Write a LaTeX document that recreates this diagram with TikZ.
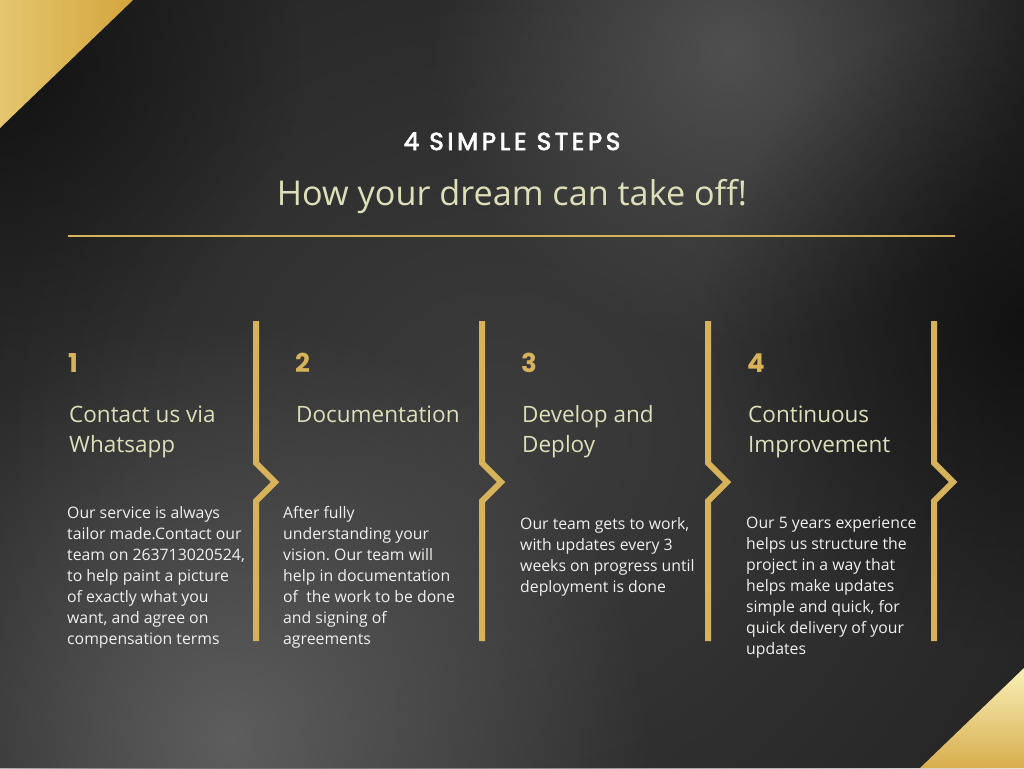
\documentclass[tikz,border=0pt]{standalone}
\usepackage{fontspec}
\setmainfont{Open Sans}
\newfontfamily\titlefont[LetterSpace=15]{Poppins}
\newfontfamily\numfont{Poppins}
\newfontfamily\headfont{Open Sans}
\usetikzlibrary{fadings}
\frenchspacing
\definecolor{bgdark}{HTML}{222222}
\definecolor{gold}{HTML}{D6B35A}
\definecolor{cream}{HTML}{DEDFB8}
\definecolor{bodytext}{HTML}{F0F0EE}
\definecolor{triA}{HTML}{E4C66E}
\definecolor{triB}{HTML}{D4A53C}
\definecolor{triC}{HTML}{F8F0B8}
\definecolor{triD}{HTML}{D8AE4E}
\newcommand\semibold[1]{\special{pdf:literal direct 2 Tr 0.75 w}#1\special{pdf:literal direct 0 Tr}}
\tikzfading[name=softc, inner color=transparent!0, outer color=transparent!100]
\tikzset{
  goldline/.style={draw=gold, line width=6pt, line join=miter},
  numlbl/.style={anchor=base west, inner sep=0pt, text=gold, font=\numfont\bfseries\fontsize{26}{30}\selectfont},
  headlbl/.style={anchor=base west, inner sep=0pt, text=cream, align=left, font=\headfont\fontsize{22.5}{30}\selectfont},
  bodylbl/.style={anchor=base west, inner sep=0pt, text=bodytext, align=left, font=\frenchspacing\fontsize{15.8}{21}\selectfont},
}
\begin{document}
\begin{tikzpicture}[x=1pt,y=-1pt]
\useasboundingbox (0,0) rectangle (1024,768);
% background
\fill[bgdark] (0,0) rectangle (1024,768);
\begin{scope}
\clip (0,0) rectangle (1024,768);
\fill[color=gray!48!black, path fading=softc] (500,440) circle (680);
\fill[color=gray!78!black, path fading=softc, fill opacity=0.9] (230,740) circle (420);
\fill[color=gray!70!black, path fading=softc, fill opacity=0.8] (730,50) circle (300);
\fill[color=black, path fading=softc, fill opacity=0.55] (1024,330) circle (320);
\fill[color=black, path fading=softc, fill opacity=0.5] (0,60) circle (300);
\end{scope}
% corner triangles
\shade[left color=triA, right color=triB] (0,0) -- (133,0) -- (0,128) -- cycle;
\shade[top color=triC, bottom color=triD] (1024,668) -- (1024,768) -- (920,768) -- cycle;
% titles
\node[anchor=base, inner sep=0pt, text=white, font=\titlefont\fontsize{24.5}{28}\selectfont] (title) at (512,150) {\semibold{4 SIMPLE STEPS}};
\node[anchor=base, inner sep=0pt, text=cream, font=\headfont\fontsize{34.2}{38}\selectfont] (subtitle) at (512,205) {How your dream can take off!};
\coordinate (hl) at (68,235.5);
\coordinate (hr) at (955,235.5);
\draw[draw=gold, line width=2pt] (hl) -- (hr);
% separators
\foreach \x [count=\i] in {256,482,708,934}{
  \coordinate (t\i) at (\x,321);
  \coordinate (a\i) at (\x,463);
  \coordinate (p\i) at (\x+19,482);
  \coordinate (b\i) at (\x,501);
  \coordinate (e\i) at (\x,641);
  \draw[goldline] (t\i) -- (a\i) -- (p\i) -- (b\i) -- (e\i);
}
% numbers
\node[numlbl] (n1) at (68,372) {1};
\node[numlbl] (n2) at (295,372) {2};
\node[numlbl] (n3) at (521,372) {3};
\node[numlbl] (n4) at (747,372) {4};
% headings (anchor = baseline of last line)
\node[headlbl] (h1) at (69,452) {Contact us via\\Whatsapp};
\node[headlbl] (h2) at (296,422) {Documentation};
\node[headlbl] (h3) at (522,452) {Develop and\\Deploy};
\node[headlbl] (h4) at (748,452) {Continuous\\Improvement};
% body (anchor = baseline of last line)
\node[bodylbl] (b1) at (67,644) {Our service is always\\tailor made.Contact our\\team on 263713020524,\\to help paint a picture\\of exactly what you\\want, and agree on\\compensation terms};
\node[bodylbl] (b2) at (283,644) {After fully\\understanding your\\vision. Our team will\\help in documentation\\of\ \ the work to be done\\and signing of\\agreements};
\node[bodylbl] (b3) at (520,592) {Our team gets to work,\\with updates every 3\\weeks on progress until\\deployment is done};
\node[bodylbl] (b4) at (746,654) {Our 5 years experience\\helps us structure the\\project in a way that\\helps make updates\\simple and quick, for\\quick delivery of your\\updates};
\end{tikzpicture}
\end{document}
